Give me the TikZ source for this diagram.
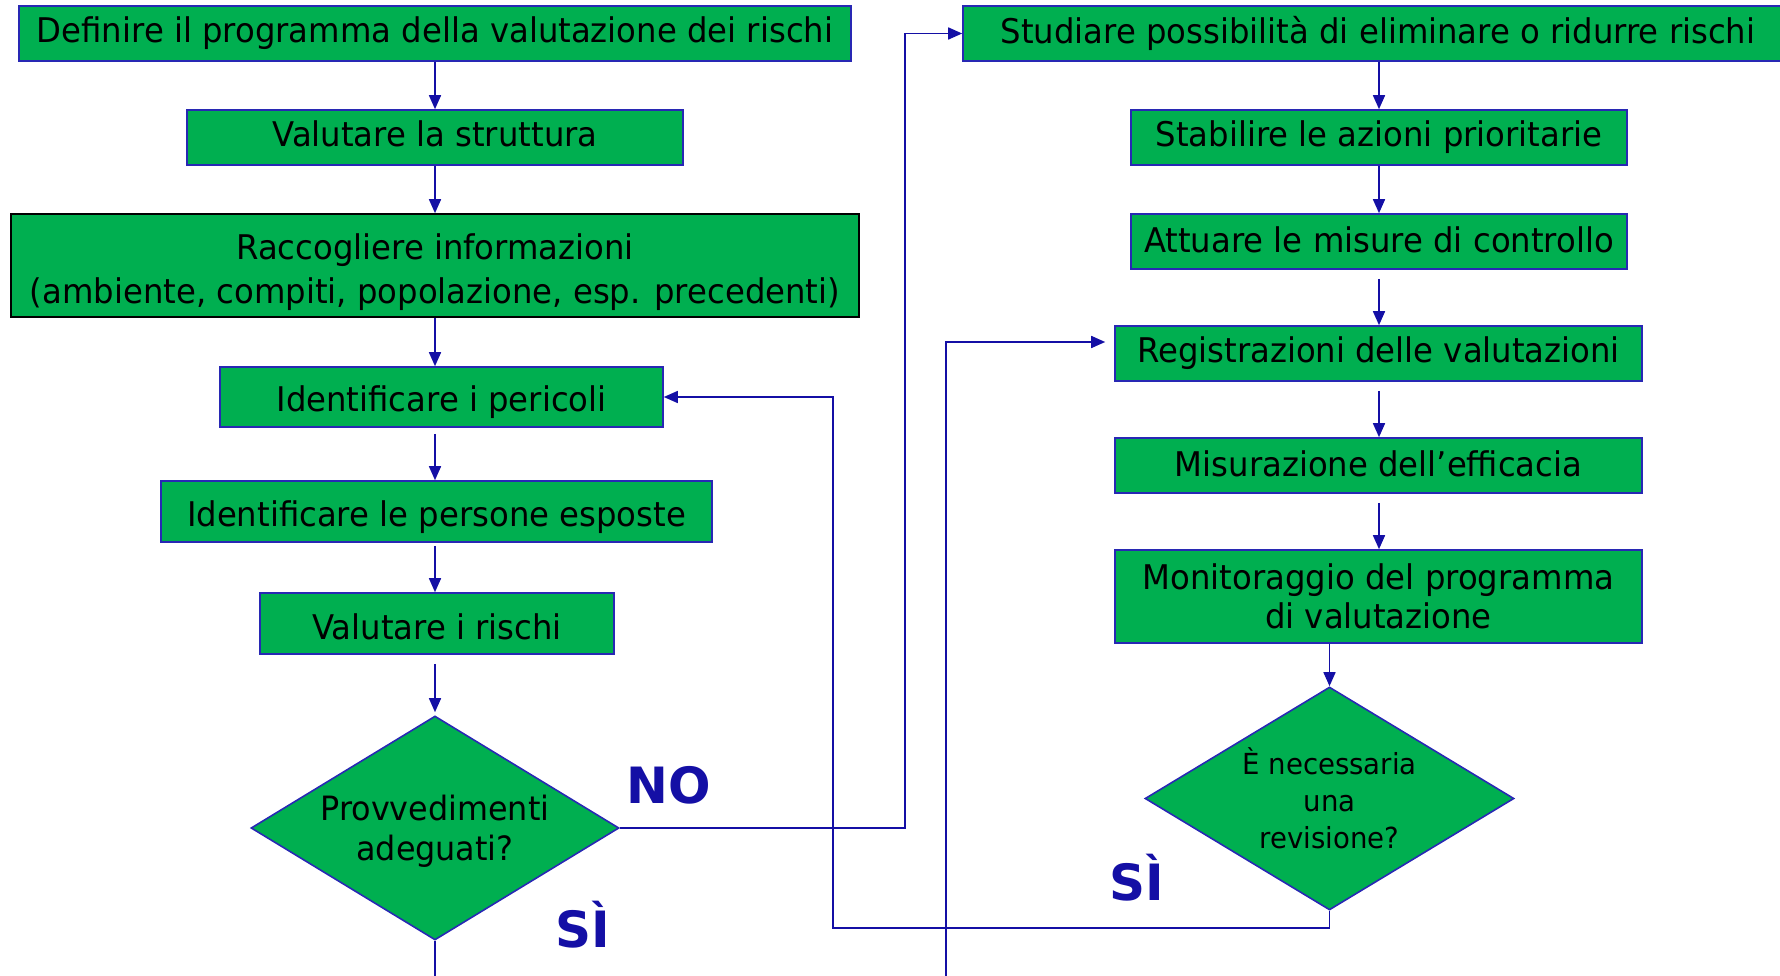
\documentclass[tikz,border=0pt]{standalone}
\usepackage{fontspec}
\setmainfont{DejaVu Sans}[FakeStretch=0.95]
\newfontfamily\lblfont{DejaVu Sans}
\usetikzlibrary{arrows.meta,shapes.geometric}
\definecolor{boxgreen}{RGB}{0,175,80}
\definecolor{lineblue}{RGB}{20,15,165}
\definecolor{edgeblue}{RGB}{40,40,180}
\newcommand\mystrut[2]{\rule[-#1]{0pt}{#2}}
\begin{document}
\begin{tikzpicture}[x=1pt,y=-1pt,
  box/.style={draw=edgeblue, line width=1.6pt, fill=boxgreen, inner sep=0pt, align=center, font=\fontsize{34}{40}\selectfont, text=black},
  conn/.style={draw=lineblue, line width=1.6pt},
  arr/.style={conn, -{Triangle[length=14pt,width=12pt]}},
  dec/.style={diamond, draw=edgeblue, line width=1.6pt, fill=boxgreen, inner sep=0pt, align=center, text=black},
  lbl/.style={text=lineblue, font=\lblfont\bfseries\fontsize{50}{50}\selectfont, anchor=base, inner sep=0pt}
]
\useasboundingbox (0,0) rectangle (1780,976);
\clip (0,0) rectangle (1780,976);
\coordinate (lx) at (435,0);
\coordinate (rx) at (1379,0);
% left column
\node[box, minimum width=832pt, minimum height=55pt] (b1) at (435,33.5) {Definire il programma della valutazione dei rischi};
\node[box, minimum width=496pt, minimum height=55pt] (b2) at (435,137.5) {\mystrut{7pt}{7pt}Valutare la struttura};
\node[box, draw=black, minimum width=848pt, minimum height=103pt, font=\fontsize{34}{44}\selectfont] (b3) at (435,265.5) {\mystrut{0pt}{40pt}Raccogliere informazioni\\(ambiente, compiti, popolazione, esp. precedenti)};
\node[box, minimum width=443pt, minimum height=60pt] (b4) at (441.5,397) {\mystrut{0pt}{37pt}Identificare i pericoli};
\node[box, minimum width=551pt, minimum height=61pt] (b5) at (436.5,511.5) {\mystrut{0pt}{37pt}Identificare le persone esposte};
\node[box, minimum width=354pt, minimum height=61pt] (b6) at (437,623.5) {\mystrut{0pt}{32pt}Valutare i rischi};
\node[dec, minimum width=368pt, minimum height=224pt, aspect=1.64, font=\fontsize{33.5}{40}\selectfont] (d1) at (435,828) {\mystrut{0pt}{32pt}Provvedimenti\\adeguati?};
% right column
\node[box, minimum width=830pt, minimum height=55pt] (r1) at (1378,33.5) {Studiare possibilità di eliminare o ridurre rischi};
\node[box, minimum width=496pt, minimum height=55pt] (r2) at (1379,137.5) {Stabilire le azioni prioritarie};
\node[box, minimum width=496pt, minimum height=55pt] (r3) at (1379,241.5) {\mystrut{4pt}{4pt}Attuare le misure di controllo};
\node[box, minimum width=527pt, minimum height=55pt] (r4) at (1378.5,353.5) {Registrazioni delle valutazioni};
\node[box, minimum width=527pt, minimum height=55pt] (r5) at (1378.5,465.5) {\mystrut{4pt}{4pt}Misurazione dell’efficacia};
\node[box, minimum width=527pt, minimum height=93pt, font=\fontsize{34}{38.6}\selectfont] (r6) at (1378.5,596.5) {Monitoraggio del programma\\di valutazione};
\node[dec, minimum width=369pt, minimum height=223pt, aspect=1.65, font=\fontsize{29}{37}\selectfont] (d2) at (1329.5,798.5) {È necessaria\\una\\revisione?};
% labels
\node[lbl] (no) at (669,803) {NO};
\node[lbl] (si1) at (583,947) {SÌ};
\node[lbl] (si2) at (1137,900) {SÌ};
% left arrows
\draw[arr] (b1.south -| lx) -- (b2.north -| lx);
\draw[arr] (b2.south -| lx) -- (b3.north -| lx);
\draw[arr] (b3.south -| lx) -- (b4.north -| lx);
\draw[arr, shorten <=6pt] (b4.south -| lx) -- (b5.north -| lx);
\draw[arr, shorten <=3pt] (b5.south -| lx) -- (b6.north -| lx);
\draw[arr, shorten <=9pt, shorten >=3pt] (b6.south -| lx) -- (d1.north);
% right arrows
\draw[arr] (r1.south -| rx) -- (r2.north -| rx);
\draw[arr] (r2.south -| rx) -- (r3.north -| rx);
\draw[arr, shorten <=9pt] (r3.south -| rx) -- (r4.north -| rx);
\draw[arr, shorten <=9pt] (r4.south -| rx) -- (r5.north -| rx);
\draw[arr, shorten <=9pt] (r5.south -| rx) -- (r6.north -| rx);
\draw[arr] (d2.north |- r6.south) -- (d2.north);
% NO path
\coordinate (noX) at (905,828);
\draw[arr] (d1.east) -- (noX) |- (r1.west);
% SI path from d2 back to b4
\coordinate (siY) at (1329.5,928);
\coordinate (siX) at (833,928);
\draw[arr] (d2.south) -- (siY) -- (siX) |- (b4.east);
% SI out of d1
\coordinate (out1) at (435,985);
\draw[conn] (d1.south) -- (out1);
% line into Registrazioni
\coordinate (in2) at (946,985);
\draw[arr, shorten >=9pt] (in2) |- ([yshift=11.5pt]r4.west);
\end{tikzpicture}
\end{document}
